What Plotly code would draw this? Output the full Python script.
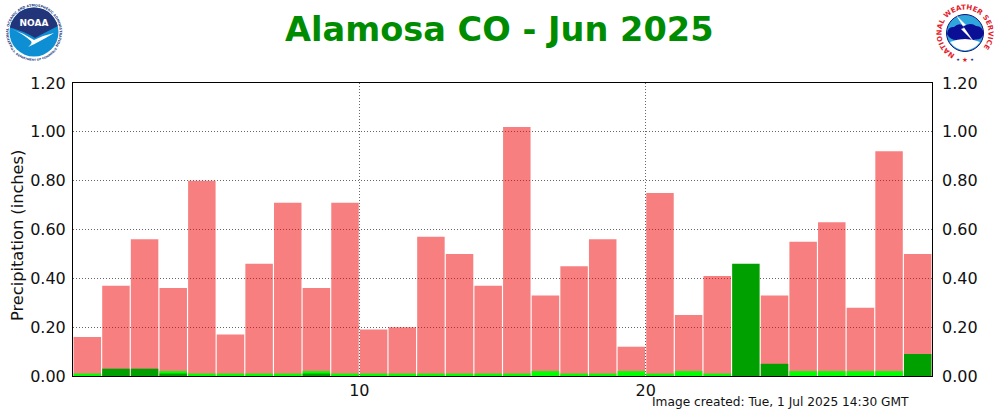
import base64
import plotly.graph_objects as go

days = list(range(1, 31))
normal = [.16, .37, .56, .36, .80, .17, .46, .71, .36, .71, .19, .20, .57, .50, .37,
          1.02, .33, .45, .56, .12, .75, .25, .41, 0, .33, .55, .63, .28, .92, .50]
bright = [.01, 0, 0, .02, .01, .01, .01, .01, .02, .01, .01, .01, .01, .01, .01,
          .01, .02, .01, .01, .02, .01, .02, .01, 0, 0, .02, .02, .02, .02, 0]
observed = [0, .03, .03, .01, 0, 0, 0, 0, .01, 0, 0, 0, 0, 0, 0,
            0, 0, 0, 0, 0, 0, 0, 0, .46, .05, 0, 0, 0, 0, .09]
y_ticks = [0, .2, .4, .6, .8, 1.0, 1.2]
x_ticks = [10, 20]

title_text = "Alamosa CO - Jun 2025"
y_label = "Precipitation (inches)"
footer = "Image created: Tue, 1 Jul 2025 14:30 GMT"

W, H = 1000, 412
L, R, T, B = 73, 932, 83, 376


def svg_uri(svg):
    return "data:image/svg+xml;base64," + base64.b64encode(svg.encode()).decode()


def px(x):
    return (x - L) / (R - L)


def py(y):
    return (B - y) / (B - T)


noaa_svg = '''<svg xmlns="http://www.w3.org/2000/svg" viewBox="0 0 120 120" width="240" height="240">
<defs><path id="top" d="M 18 89 A 51 51 0 1 1 102 89"/><path id="bot" d="M 13 93 A 57 57 0 0 0 107 93"/>
<clipPath id="c"><circle cx="60" cy="60" r="49"/></clipPath></defs>
<circle cx="60" cy="60" r="59.5" fill="#fff"/>
<text font-family="DejaVu Sans" font-size="6.8" font-weight="bold" fill="#27407f"><textPath href="#top">NATIONAL OCEANIC AND ATMOSPHERIC ADMINISTRATION</textPath></text>
<text font-family="DejaVu Sans" font-size="5.8" font-weight="bold" fill="#27407f"><textPath href="#bot">U.S. DEPARTMENT OF COMMERCE</textPath></text>
<g clip-path="url(#c)"><rect width="120" height="120" fill="#0f8fd3"/>
<path d="M 8 50 Q 40 58 62 72 Q 84 60 112 46 L 112 0 L 8 0 Z" fill="#23357a"/>
<path d="M 11 52 Q 38 62 60 76 Q 80 66 100 62 Q 84 72 72 78 Q 62 84 48 90 Q 58 82 54 78 Q 36 62 11 52 Z" fill="#fff"/>
</g>
<text x="60" y="48" text-anchor="middle" font-family="DejaVu Sans" font-size="18" font-weight="bold" fill="#fff">NOAA</text>
</svg>'''

nws_svg = '''<svg xmlns="http://www.w3.org/2000/svg" viewBox="0 0 120 120" width="240" height="240">
<defs><path id="ring" d="M 40.1 102.6 A 47 47 0 1 1 79.9 102.6"/></defs>
<circle cx="60" cy="60" r="59.5" fill="#fff"/>
<text font-family="DejaVu Sans" font-size="14" font-weight="bold" fill="#e31c2c"><textPath href="#ring">NATIONAL WEATHER SERVICE</textPath></text>
<circle cx="60" cy="60" r="37" fill="#2fa6dc" stroke="#11137a" stroke-width="2"/>
<path d="M 24 62 Q 26 46 38 48 Q 48 38 58 46 Q 72 38 82 46 Q 96 46 97 62 Q 94 74 80 73 Q 66 80 52 73 Q 32 78 24 62 Z" fill="#0b0f96"/>
<path d="M 30 78 Q 60 66 90 78 Q 78 94 60 95 Q 42 94 30 78 Z" fill="#fff"/>
<path d="M 42 24 L 62 44 L 56 46 L 78 78 L 52 52 L 58 50 Z" fill="#fff"/>
<text x="60" y="117" text-anchor="middle" font-family="DejaVu Sans" font-size="13" fill="#e31c2c">★</text>
<text x="46" y="115" text-anchor="middle" font-family="DejaVu Sans" font-size="8" fill="#11137a">★</text>
<text x="74" y="115" text-anchor="middle" font-family="DejaVu Sans" font-size="8" fill="#11137a">★</text>
</svg>'''

x_centers = [d - 0.5 for d in days]
fig = go.Figure()
for vals, colour in [(normal, "rgba(240,0,0,0.5)"), (bright, "#00ff00"), (observed, "#00a000")]:
    fig.add_bar(x=x_centers, y=vals, width=0.96, marker=dict(color=colour, line_width=0),
                showlegend=False, hoverinfo="skip")
fig.add_scatter(x=x_centers, y=normal, yaxis="y2", mode="lines", line=dict(width=0),
                showlegend=False, hoverinfo="skip")

tickfont = dict(family="DejaVu Sans", size=16, color="#111")
grid_style = dict(showgrid=True, gridcolor="#666", griddash="1px,2px", gridwidth=1, zeroline=False)
axis_common = dict(range=[0, 1.2], tickvals=y_ticks, tickformat=".2f", tickfont=tickfont, ticks="")
fig.update_layout(
    width=W, height=H, autosize=False, barmode="overlay",
    margin=dict(l=L, r=W - R, t=T, b=H - B, pad=0),
    paper_bgcolor="#fff", plot_bgcolor="#fff",
    font=dict(family="DejaVu Sans"),
    xaxis=dict(range=[0, 30], tickvals=x_ticks, tickfont=tickfont, ticks="", **grid_style,
               showline=True, linecolor="#000", linewidth=1, mirror=True),
    yaxis=dict(**axis_common, **grid_style, showline=True, linecolor="#000", linewidth=1, mirror=True,
               ticklabelstandoff=3),
    yaxis2=dict(**axis_common, overlaying="y", side="right", showgrid=False, zeroline=False, showline=False,
                ticklabelstandoff=9),
    annotations=[
        dict(text=f"<b>{title_text}</b>", xref="paper", yref="paper",
             x=px(499), y=py(30), xanchor="center", yanchor="middle",
             showarrow=False, font=dict(family="DejaVu Sans", size=33.6, color="#008c00")),
        dict(text=y_label, xref="paper", yref="paper", textangle=-90,
             x=px(17), y=py(236), xanchor="center", yanchor="middle",
             showarrow=False, font=dict(family="DejaVu Sans", size=16.2, color="#111")),
        dict(text=footer, xref="paper", yref="paper",
             x=px(911), y=py(401.5), xanchor="right", yanchor="middle",
             showarrow=False, font=dict(family="DejaVu Sans", size=12.2, color="#111")),
    ],
    images=[
        dict(source=svg_uri(noaa_svg), xref="paper", yref="paper", xanchor="center", yanchor="middle",
             x=px(34), y=py(32), sizex=60 / (R - L), sizey=60 / (B - T),
             sizing="contain", layer="above"),
        dict(source=svg_uri(nws_svg), xref="paper", yref="paper", xanchor="center", yanchor="middle",
             x=px(965), y=py(33), sizex=60 / (R - L), sizey=60 / (B - T),
             sizing="contain", layer="above"),
    ],
)
fig.write_html("out.html", config=dict(displayModeBar=False),
               post_script="document.body.style.margin='0';")
